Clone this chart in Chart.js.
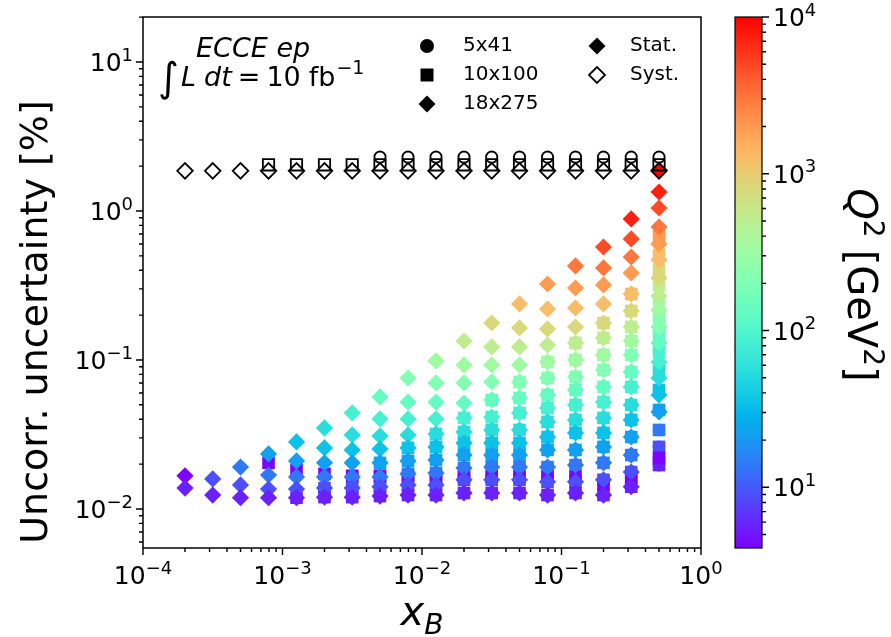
<!DOCTYPE html>
<html>
<head>
<meta charset="utf-8">
<script src="https://cdn.jsdelivr.net/npm/chart.js@4.4.0/dist/chart.umd.min.js"></script>
<style>
  html, body { margin: 0; padding: 0; background: #fff; }
  #wrap { width: 891px; height: 637px; }
</style>
</head>
<body>
<div id="wrap"><canvas id="chart" width="891" height="637"></canvas></div>
<script>
// x_B bin centres
const xBins = [2.0e-4, 3.16e-4, 5.0e-4, 7.94e-4, 1.26e-3, 2.0e-3, 3.16e-3, 5.0e-3, 7.94e-3,
  1.26e-2, 2.0e-2, 3.16e-2, 5.0e-2, 7.94e-2, 0.126, 0.2, 0.316, 0.5];

// 18x275 stat. uncertainty [%], one list per x bin (top to bottom)
const diaUnc = [
  [0.0167, 0.0138],
  [0.0159, 0.0124],
  [0.0191, 0.0145, 0.0119],
  [0.0234, 0.0169, 0.0136, 0.0119],
  [0.0282, 0.0210, 0.0164, 0.0136, 0.0119],
  [0.0350, 0.0257, 0.0204, 0.0164, 0.0138, 0.0120],
  [0.0441, 0.0314, 0.0249, 0.0204, 0.0164, 0.0138, 0.0120],
  [0.0565, 0.0402, 0.0309, 0.0253, 0.0204, 0.0164, 0.0141, 0.0122],
  [0.0757, 0.0522, 0.0402, 0.0314, 0.0257, 0.0210, 0.0172, 0.0145, 0.0124],
  [0.0985, 0.0701, 0.0522, 0.0402, 0.0319, 0.0261, 0.0213, 0.0174, 0.0145, 0.0124],
  [0.1341, 0.0926, 0.0701, 0.0514, 0.0408, 0.0329, 0.0277, 0.0230, 0.0188, 0.0157, 0.0128],
  [0.1771, 0.1223, 0.0926, 0.0712, 0.0539, 0.0414, 0.0339, 0.0277, 0.0230, 0.0191, 0.0157, 0.0128],
  [0.2376, 0.1640, 0.1223, 0.0926, 0.0712, 0.0556, 0.0441, 0.0339, 0.0277, 0.0230, 0.0191, 0.0157, 0.0128],
  [0.3236, 0.2199, 0.1615, 0.126, 0.0970, 0.0757, 0.0582, 0.0476, 0.0384, 0.0304, 0.0249, 0.0191, 0.0152, 0.0124],
  [0.4275, 0.3042, 0.2234, 0.1665, 0.130, 0.100, 0.0769, 0.0629, 0.0499, 0.0396, 0.0324, 0.0249, 0.0197, 0.0152, 0.0128],
  [0.573, 0.4145, 0.3187, 0.2376, 0.1771, 0.1405, 0.108, 0.0857, 0.0659, 0.0522, 0.0408, 0.0324, 0.0261, 0.0204, 0.0157, 0.0124],
  [0.884, 0.649, 0.491, 0.3836, 0.2773, 0.2133, 0.1665, 0.1341, 0.108, 0.0831, 0.0659, 0.0499, 0.0396, 0.0304, 0.0230, 0.0177, 0.0141],
  [1.884, 1.341, 1.047, 0.781, 0.600, 0.469, 0.355, 0.269, 0.2166, 0.1665, 0.130, 0.0970, 0.0757, 0.0582, 0.0448]
];
// Q^2 [GeV^2] of each 18x275 point
const diaQ2 = [
  [4.0, 5.6],
  [8.9, 5.6],
  [14, 8.9, 5.6],
  [22, 14, 8.9, 5.6],
  [35, 22, 14, 8.9, 5.6],
  [55, 35, 22, 14, 8.9, 5.6],
  [85, 55, 35, 22, 14, 8.9, 5.6],
  [135, 85, 55, 35, 22, 14, 8.9, 5.6],
  [210, 135, 85, 55, 35, 22, 14, 8.9, 5.6],
  [330, 210, 135, 85, 55, 35, 22, 14, 8.9, 5.6],
  [520, 330, 210, 135, 85, 55, 35, 22, 14, 8.9, 5.6],
  [800, 520, 330, 210, 135, 85, 55, 35, 22, 14, 8.9, 5.6],
  [1250, 800, 520, 330, 210, 135, 85, 55, 35, 22, 14, 8.9, 5.6],
  [1950, 1250, 800, 520, 330, 210, 135, 85, 55, 35, 22, 14, 8.9, 5.6],
  [3000, 1950, 1250, 800, 520, 330, 210, 135, 85, 55, 35, 22, 14, 8.9, 5.6],
  [4700, 3000, 1950, 1250, 800, 520, 330, 210, 135, 85, 55, 35, 22, 14, 8.9, 5.6],
  [7300, 4700, 3000, 1950, 1250, 800, 520, 330, 210, 135, 85, 55, 35, 22, 14, 8.9, 5.6],
  [12000, 7300, 4700, 3000, 1950, 1250, 800, 520, 330, 210, 135, 85, 55, 35, 22]
];

// 10x100 stat. uncertainty [%]
const sqUnc = [
  [], [], [],
  [0.0204],
  [0.0119, 0.0183],
  [0.0138, 0.0120, 0.0172],
  [0.0164, 0.0138, 0.0120, 0.0167],
  [0.0204, 0.0164, 0.0141, 0.0122, 0.0167],
  [0.0257, 0.0210, 0.0172, 0.0145, 0.0124, 0.0164],
  [0.0319, 0.0261, 0.0213, 0.0174, 0.0145, 0.0124, 0.0164],
  [0.0408, 0.0329, 0.0277, 0.0230, 0.0188, 0.0157, 0.0128, 0.0164],
  [0.0539, 0.0414, 0.0339, 0.0277, 0.0230, 0.0191, 0.0157, 0.0128, 0.0164],
  [0.0712, 0.0556, 0.0441, 0.0339, 0.0277, 0.0230, 0.0191, 0.0157, 0.0128, 0.0164],
  [0.0970, 0.0757, 0.0582, 0.0476, 0.0384, 0.0304, 0.0249, 0.0191, 0.0152, 0.0124, 0.0164],
  [0.130, 0.100, 0.0769, 0.0629, 0.0499, 0.0396, 0.0324, 0.0249, 0.0197, 0.0152, 0.0128, 0.0164],
  [0.1771, 0.1405, 0.108, 0.0857, 0.0659, 0.0522, 0.0408, 0.0324, 0.0261, 0.0204, 0.0157, 0.0124, 0.0147],
  [0.2773, 0.2133, 0.1665, 0.1341, 0.108, 0.0831, 0.0659, 0.0499, 0.0396, 0.0304, 0.0230, 0.0177, 0.0141, 0.0161],
  [0.680, 0.507, 0.402, 0.3187, 0.2527, 0.1913, 0.1471, 0.1132, 0.0857, 0.0629, 0.0462, 0.0339, 0.0261, 0.0197, 0.0220]
];
const sqQ2 = [
  [], [], [],
  [4],
  [5.6, 4],
  [8.9, 5.6, 4],
  [14, 8.9, 5.6, 4],
  [22, 14, 8.9, 5.6, 4],
  [35, 22, 14, 8.9, 5.6, 4],
  [55, 35, 22, 14, 8.9, 5.6, 4],
  [85, 55, 35, 22, 14, 8.9, 5.6, 4],
  [135, 85, 55, 35, 22, 14, 8.9, 5.6, 4],
  [210, 135, 85, 55, 35, 22, 14, 8.9, 5.6, 4],
  [330, 210, 135, 85, 55, 35, 22, 14, 8.9, 5.6, 4],
  [520, 330, 210, 135, 85, 55, 35, 22, 14, 8.9, 5.6, 4],
  [800, 520, 330, 210, 135, 85, 55, 35, 22, 14, 8.9, 5.6, 4],
  [1250, 800, 520, 330, 210, 135, 85, 55, 35, 22, 14, 8.9, 5.6, 4],
  [1950, 1250, 800, 520, 330, 210, 135, 85, 55, 35, 22, 14, 8.9, 5.6, 4]
];

// 5x41 stat. uncertainty [%]
const cirUnc = [
  [], [], [], [], [], [], [],
  [0.0167],
  [0.0124, 0.0164],
  [0.0145, 0.0124, 0.0164],
  [0.0188, 0.0157, 0.0128, 0.0164],
  [0.0230, 0.0191, 0.0157, 0.0128, 0.0164],
  [0.0277, 0.0230, 0.0191, 0.0157, 0.0128, 0.0164],
  [0.0384, 0.0304, 0.0249, 0.0191, 0.0152, 0.0124, 0.0164],
  [0.0499, 0.0396, 0.0324, 0.0249, 0.0197, 0.0152, 0.0128, 0.0164],
  [0.0659, 0.0522, 0.0408, 0.0324, 0.0261, 0.0204, 0.0157, 0.0124, 0.0147],
  [0.108, 0.0831, 0.0659, 0.0499, 0.0396, 0.0304, 0.0230, 0.0177, 0.0141, 0.0161],
  [0.2527, 0.1913, 0.1471, 0.1132, 0.0857, 0.0629, 0.0462, 0.0339, 0.0261, 0.0197, 0.0220]
];
const cirQ2 = [
  [], [], [], [], [], [], [],
  [4],
  [5.6, 4],
  [8.9, 5.6, 4],
  [14, 8.9, 5.6, 4],
  [22, 14, 8.9, 5.6, 4],
  [35, 22, 14, 8.9, 5.6, 4],
  [55, 35, 22, 14, 8.9, 5.6, 4],
  [85, 55, 35, 22, 14, 8.9, 5.6, 4],
  [135, 85, 55, 35, 22, 14, 8.9, 5.6, 4],
  [210, 135, 85, 55, 35, 22, 14, 8.9, 5.6, 4],
  [330, 210, 135, 85, 55, 35, 22, 14, 8.9, 5.6, 4]
];

// syst. uncertainty [%] per x bin (null = no bin)
const diaSyst = [1.86, 1.86, 1.86, 1.86, 1.86, 1.86, 1.86, 1.86, 1.86, 1.86, 1.86, 1.86, 1.86, 1.86, 1.86, 1.86, 1.86, 1.86];
const sqSyst = [null, null, null, 2.04, 2.04, 2.04, 2.04, 2.04, 2.04, 2.04, 2.04, 2.04, 2.04, 2.04, 2.04, 2.04, 2.04, 2.04];
const cirSyst = [null, null, null, null, null, null, null, 2.30, 2.30, 2.30, 2.30, 2.30, 2.30, 2.30, 2.30, 2.30, 2.30, 2.30];

const xMajor = [1e-4, 1e-3, 1e-2, 1e-1, 1];
const yMajor = [1e-2, 1e-1, 1, 10];
const cbMajor = [10, 100, 1000, 10000];

const Q2_MIN = 4.1, Q2_MAX = 1e4;
const Y_MIN = 0.00547, Y_MAX = 20.04;
const PLOT = { left: 143, right: 701, top: 17, bottom: 548 };
const CBAR = { left: 735, right: 762 };
const FONT = '"DejaVu Sans", sans-serif';

// matplotlib 'rainbow' on a log norm
function rainbow(q2) {
  let t = (Math.log10(q2) - Math.log10(Q2_MIN)) / (Math.log10(Q2_MAX) - Math.log10(Q2_MIN));
  t = Math.min(1, Math.max(0, t));
  const r = Math.min(1, Math.abs(2 * t - 0.5));
  const g = Math.sin(Math.PI * t);
  const b = Math.cos(Math.PI * t / 2);
  return 'rgb(' + Math.round(r * 255) + ',' + Math.round(g * 255) + ',' + Math.round(b * 255) + ')';
}

function statSet(unc, q2) {
  const data = [], colors = [];
  unc.forEach((col, k) => col.forEach((v, j) => {
    data.push({ x: xBins[k], y: v });
    colors.push(rainbow(q2[k][j]));
  }));
  return { data, colors };
}

function systSet(vals) {
  return vals.map((v, k) => ({ x: xBins[k], y: v })).filter(p => p.y !== null);
}

function minorTicks(lo, hi) {
  const out = [];
  for (let e = Math.floor(Math.log10(lo)); e <= Math.ceil(Math.log10(hi)); e++) {
    for (let m = 2; m <= 9; m++) {
      const v = m * Math.pow(10, e);
      if (v > lo && v < hi) out.push(v);
    }
  }
  return out;
}

function drawPow10(ctx, exp, x, y, align, size) {
  const base = '10';
  const sup = exp < 0 ? '\u2212' + Math.abs(exp) : String(exp);
  const supSize = Math.round(size * 0.7);
  ctx.font = size + 'px ' + FONT;
  const wb = ctx.measureText(base).width;
  ctx.font = supSize + 'px ' + FONT;
  const ws = ctx.measureText(sup).width;
  let x0 = x;
  if (align === 'center') x0 = x - (wb + ws) / 2;
  else if (align === 'right') x0 = x - (wb + ws);
  ctx.textAlign = 'left';
  ctx.textBaseline = 'alphabetic';
  ctx.font = size + 'px ' + FONT;
  ctx.fillText(base, x0, y);
  ctx.font = supSize + 'px ' + FONT;
  ctx.fillText(sup, x0 + wb, y - size * 0.42);
}

function marker(ctx, style, x, y, r, filled) {
  ctx.beginPath();
  if (style === 'circle') ctx.arc(x, y, r, 0, Math.PI * 2);
  else if (style === 'rect') ctx.rect(x - r, y - r, 2 * r, 2 * r);
  else { ctx.moveTo(x - r, y); ctx.lineTo(x, y - r); ctx.lineTo(x + r, y); ctx.lineTo(x, y + r); ctx.closePath(); }
  if (filled) { ctx.fillStyle = '#000'; ctx.fill(); }
  else { ctx.strokeStyle = '#000'; ctx.lineWidth = 1.8; ctx.stroke(); }
}

// draws a run of [text, font, dy, gapBefore] pieces from x on baseline y
function drawRun(ctx, pieces, x, y) {
  ctx.textAlign = 'left';
  ctx.textBaseline = 'alphabetic';
  pieces.forEach(p => {
    x += p[3] || 0;
    ctx.font = p[1] + ' ' + FONT;
    ctx.fillText(p[0], x, y + (p[2] || 0));
    x += ctx.measureText(p[0]).width;
  });
}

const mplPlugin = {
  id: 'mplAxes',
  afterDraw(chart) {
    const { ctx, chartArea: a } = chart;
    const sx = chart.scales.x, sy = chart.scales.y, sq = chart.scales.q;
    ctx.save();
    ctx.fillStyle = '#000';
    ctx.strokeStyle = '#000';

    // spines
    ctx.lineWidth = 1.5;
    ctx.strokeRect(a.left, a.top, a.right - a.left, a.bottom - a.top);

    // ticks
    ctx.lineWidth = 1.4;
    ctx.beginPath();
    xMajor.forEach(v => { const p = sx.getPixelForValue(v); ctx.moveTo(p, a.bottom); ctx.lineTo(p, a.bottom + 7); });
    minorTicks(1e-4, 1).forEach(v => { const p = sx.getPixelForValue(v); ctx.moveTo(p, a.bottom); ctx.lineTo(p, a.bottom + 4); });
    yMajor.forEach(v => { const p = sy.getPixelForValue(v); ctx.moveTo(a.left, p); ctx.lineTo(a.left - 7, p); });
    minorTicks(Y_MIN, Y_MAX).forEach(v => { const p = sy.getPixelForValue(v); ctx.moveTo(a.left, p); ctx.lineTo(a.left - 4, p); });
    ctx.stroke();

    const TS = 25;
    xMajor.forEach(v => drawPow10(ctx, Math.round(Math.log10(v)), sx.getPixelForValue(v), a.bottom + 12 + TS * 0.96, 'center', TS));
    yMajor.forEach(v => drawPow10(ctx, Math.round(Math.log10(v)), a.left - 10, sy.getPixelForValue(v) + TS * 0.365, 'right', TS));

    // x title
    ctx.textBaseline = 'alphabetic';
    ctx.font = 'italic 40px ' + FONT;
    const wx = ctx.measureText('x').width;
    ctx.font = 'italic 28px ' + FONT;
    const wB = ctx.measureText('B').width;
    drawRun(ctx, [['x', 'italic 40px', 0], ['B', 'italic 28px', 9]], (a.left + a.right) / 2 - (wx + wB) / 2, 625);

    // y title
    ctx.save();
    ctx.translate(47, 322);
    ctx.rotate(-Math.PI / 2);
    ctx.textAlign = 'center';
    ctx.font = '38px ' + FONT;
    ctx.fillText('Uncorr. uncertainty [%]', 0, 0);
    ctx.restore();

    // annotation
    ctx.textAlign = 'left';
    ctx.font = 'italic 27px ' + FONT;
    ctx.fillText('ECCE ep', 196, 57);
    ctx.font = '40px ' + FONT;
    ctx.fillText('\u222B', 158, 91);
    drawRun(ctx, [
      ['L', 'italic 27px', 0, 0],
      ['dt', 'italic 27px', 0, 8],
      ['=', '27px', 0, 6],
      ['10', '27px', 0, 6],
      ['fb', '27px', 0, 8],
      ['\u22121', '19px', -12, 1]
    ], 181, 86);

    // legend
    const rows = [46, 75, 104];
    const lg = ['5x41', '10x100', '18x275'];
    marker(ctx, 'circle', 427, rows[0], 7, true);
    marker(ctx, 'rect', 427, rows[1], 6.5, true);
    marker(ctx, 'diamond', 427, rows[2], 8.5, true);
    marker(ctx, 'diamond', 597, rows[0], 8.5, true);
    marker(ctx, 'diamond', 597, rows[1], 8, false);
    ctx.fillStyle = '#000';
    ctx.font = '20px ' + FONT;
    ctx.textBaseline = 'middle';
    lg.forEach((t, i) => ctx.fillText(t, 463, rows[i]));
    ctx.fillText('Stat.', 630, rows[0]);
    ctx.fillText('Syst.', 630, rows[1]);

    // colorbar
    const top = sq.getPixelForValue(Q2_MAX), bot = sq.getPixelForValue(Q2_MIN);
    for (let p = Math.floor(top); p < bot; p++) {
      ctx.fillStyle = rainbow(sq.getValueForPixel(p + 0.5));
      ctx.fillRect(CBAR.left, p, CBAR.right - CBAR.left, 1);
    }
    ctx.strokeStyle = '#000';
    ctx.lineWidth = 1.2;
    ctx.strokeRect(CBAR.left, top, CBAR.right - CBAR.left, bot - top);
    ctx.lineWidth = 1.4;
    ctx.beginPath();
    cbMajor.forEach(v => { const p = sq.getPixelForValue(v); ctx.moveTo(CBAR.right, p); ctx.lineTo(CBAR.right + 7, p); });
    minorTicks(Q2_MIN, Q2_MAX).forEach(v => { const p = sq.getPixelForValue(v); ctx.moveTo(CBAR.right, p); ctx.lineTo(CBAR.right + 4, p); });
    ctx.stroke();
    ctx.fillStyle = '#000';
    cbMajor.forEach(v => drawPow10(ctx, Math.round(Math.log10(v)), CBAR.right + 11, sq.getPixelForValue(v) + TS * 0.365, 'left', TS));

    // colorbar label, reads top to bottom
    ctx.save();
    ctx.translate(848, 285);
    ctx.rotate(Math.PI / 2);
    const parts = [['Q', 'italic 40px', 0], ['2', '28px', -16], ['[GeV', '40px', 0, 12], ['2', '28px', -16], [']', '40px', 0]];
    let total = 0;
    parts.forEach(pt => { ctx.font = pt[1] + ' ' + FONT; total += ctx.measureText(pt[0]).width + (pt[3] || 0); });
    drawRun(ctx, parts, -total / 2, 0);
    ctx.restore();

    ctx.restore();
  }
};

const cir = statSet(cirUnc, cirQ2);
const sq = statSet(sqUnc, sqQ2);
const dia = statSet(diaUnc, diaQ2);

new Chart(document.getElementById('chart'), {
  type: 'scatter',
  data: {
    datasets: [
      { label: '5x41 stat', data: cir.data, order: 6, pointStyle: 'circle', pointRadius: 6.3,
        pointBackgroundColor: cir.colors, pointBorderWidth: 0 },
      { label: '10x100 stat', data: sq.data, order: 5, pointStyle: 'rect', pointRadius: 8.9,
        pointBackgroundColor: sq.colors, pointBorderWidth: 0 },
      { label: '18x275 stat', data: dia.data, order: 4, pointStyle: 'rectRot', pointRadius: 8.6,
        pointBackgroundColor: dia.colors, pointBorderWidth: 0 },
      { label: '5x41 syst', data: systSet(cirSyst), order: 3, pointStyle: 'circle', pointRadius: 5.6,
        pointBackgroundColor: 'rgba(0,0,0,0)', pointBorderColor: '#000', pointBorderWidth: 1.8 },
      { label: '10x100 syst', data: systSet(sqSyst), order: 2, pointStyle: 'rect', pointRadius: 8.0,
        pointBackgroundColor: 'rgba(0,0,0,0)', pointBorderColor: '#000', pointBorderWidth: 1.8 },
      { label: '18x275 syst', data: systSet(diaSyst), order: 1, pointStyle: 'rectRot', pointRadius: 7.8,
        pointBackgroundColor: 'rgba(0,0,0,0)', pointBorderColor: '#000', pointBorderWidth: 1.8 }
    ]
  },
  options: {
    responsive: false,
    animation: false,
    devicePixelRatio: 1,
    events: [],
    layout: { padding: { left: PLOT.left, right: 891 - PLOT.right, top: PLOT.top, bottom: 637 - PLOT.bottom } },
    plugins: { legend: { display: false }, tooltip: { enabled: false } },
    scales: {
      x: { type: 'logarithmic', min: 1e-4, max: 1, display: false },
      y: { type: 'logarithmic', min: Y_MIN, max: Y_MAX, display: false },
      q: { type: 'logarithmic', axis: 'y', min: Q2_MIN, max: Q2_MAX, display: false }
    }
  },
  plugins: [mplPlugin]
});
</script>
</body>
</html>
